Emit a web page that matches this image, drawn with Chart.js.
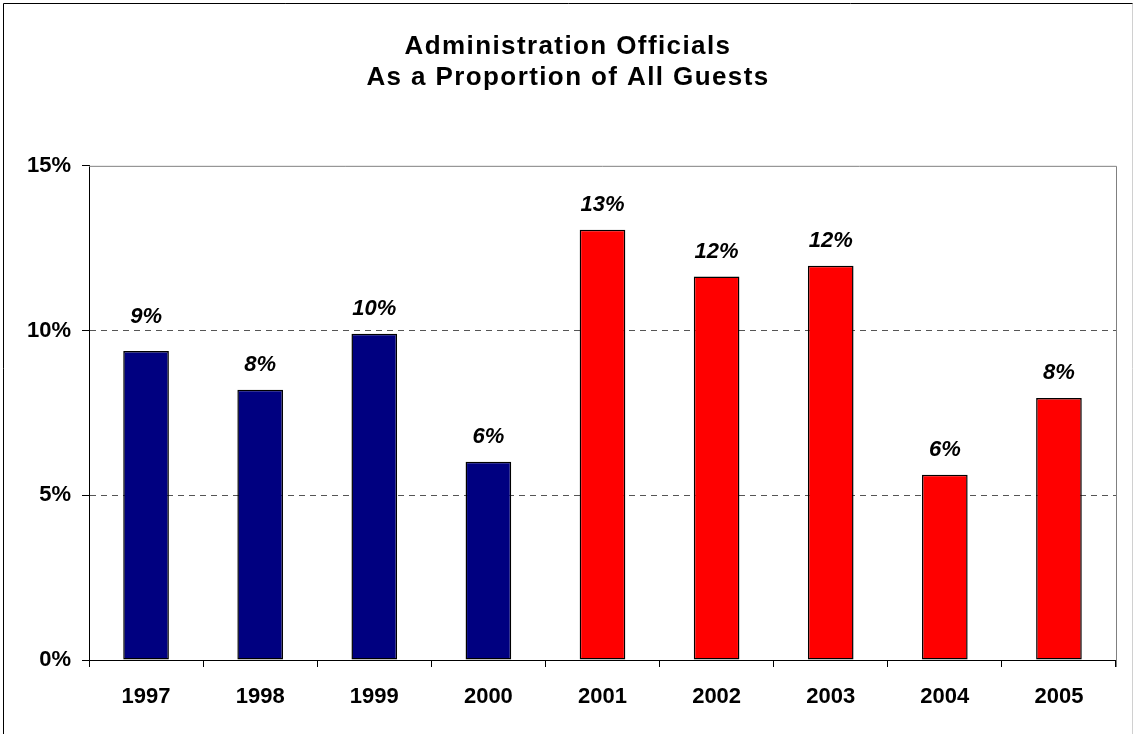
<!DOCTYPE html>
<html>
<head>
<meta charset="utf-8">
<script src="https://cdn.jsdelivr.net/npm/chart.js@4"></script>
<style>
  body { margin: 0; background: #fff; }
  canvas { display: block; }
</style>
</head>
<body>
<canvas id="myChart" width="1134" height="734"></canvas>
<script>
// данные
const years = ['1997', '1998', '1999', '2000', '2001', '2002', '2003', '2004', '2005'];
const shares = [9.38, 8.20, 9.90, 6.02, 13.06, 11.64, 11.97, 5.62, 7.95];
const administrations = ['Clinton', 'Clinton', 'Clinton', 'Clinton', 'Bush', 'Bush', 'Bush', 'Bush', 'Bush'];
const yTicks = [0, 5, 10, 15];
const dashedLines = [5, 10];

const fontFamily = "'Liberation Sans', Arial, sans-serif";

// цвет столбца по администрации
const barColors = administrations.map(a => a === 'Clinton' ? '#000080' : '#ff0000');

// подписи над столбцами
const valueLabels = {
    id: 'valueLabels',
    afterDatasetsDraw(chart) {
        const ctx = chart.ctx;
        const meta = chart.getDatasetMeta(0);
        const yScale = chart.scales.y;
        ctx.save();
        ctx.font = 'italic bold 22px ' + fontFamily;
        ctx.fillStyle = '#000';
        ctx.textAlign = 'center';
        ctx.textBaseline = 'middle';
        meta.data.forEach((bar, i) => {
            let y = bar.y - 25;
            // не пересекать пунктирную линию
            dashedLines.forEach(v => {
                const ly = yScale.getPixelForValue(v);
                if (Math.abs(ly - y) < 10) y = ly - 14;
            });
            ctx.fillText(Math.round(shares[i]) + '%', bar.x, y);
        });
        ctx.restore();
    }
};

// разрядка и сдвиг заголовка
const titleSpacing = {
    id: 'titleSpacing',
    afterInit(chart) {
        const tb = chart.titleBlock;
        if (!tb) return;
        const orig = tb.draw.bind(tb);
        tb.draw = function (area) {
            const ctx = chart.ctx;
            ctx.save();
            ctx.letterSpacing = '1.4px';
            ctx.translate(10, 0);
            orig(area);
            ctx.restore();
        };
    }
};

// рамка вокруг графика и области построения
const frame = {
    id: 'frame',
    afterDraw(chart) {
        const ctx = chart.ctx;
        const a = chart.chartArea;
        ctx.save();
        ctx.lineWidth = 1;
        ctx.strokeStyle = '#808080';
        ctx.beginPath();
        ctx.moveTo(a.left, a.top + 0.5);
        ctx.lineTo(a.right + 0.5, a.top + 0.5);
        ctx.lineTo(a.right + 0.5, a.bottom + 7);
        ctx.stroke();

        ctx.strokeStyle = '#000';
        ctx.beginPath();
        ctx.moveTo(3.5, 734);
        ctx.lineTo(3.5, 3.5);
        ctx.lineTo(1133, 3.5);
        ctx.stroke();
        ctx.strokeStyle = '#d0d0d0';
        ctx.beginPath();
        ctx.moveTo(1132.5, 3.5);
        ctx.lineTo(1132.5, 734);
        ctx.stroke();
        ctx.restore();
    }
};

const ctxChart = document.getElementById('myChart').getContext('2d');

const myChart = new Chart(ctxChart, {
    type: 'bar',
    data: {
        labels: years,
        datasets: [{
            data: shares,
            backgroundColor: barColors,
            borderColor: '#000',
            borderWidth: 1.5,
            borderSkipped: false,
            categoryPercentage: 1,
            barPercentage: 0.4
        }]
    },
    options: {
        responsive: false,
        animation: false,
        layout: {
            padding: { left: 0, right: 18, top: 0, bottom: 0 }
        },
        plugins: {
            legend: { display: false },
            tooltip: { enabled: false },
            title: {
                display: true,
                text: ['Administration Officials', 'As a Proportion of All Guests'],
                color: '#000',
                font: { family: fontFamily, size: 26, weight: 'bold', lineHeight: 1.17 },
                padding: { top: 32, bottom: 73 }
            }
        },
        scales: {
            x: {
                grid: {
                    offset: true,
                    drawOnChartArea: false,
                    drawTicks: true,
                    tickLength: 7,
                    tickColor: '#000'
                },
                border: { color: '#000', width: 1 },
                ticks: {
                    color: '#000',
                    padding: 17,
                    font: { family: fontFamily, size: 22, weight: 'bold' }
                },
                afterFit(scale) { scale.height = 74; }
            },
            y: {
                min: 0,
                max: 15,
                afterBuildTicks(scale) {
                    scale.ticks = yTicks.map(v => ({ value: v }));
                },
                grid: {
                    color: c => (c.tick && dashedLines.includes(c.tick.value)) ? '#555' : 'rgba(0,0,0,0)',
                    tickColor: '#000',
                    tickLength: 7,
                    tickBorderDash: [],
                    lineWidth: 1
                },
                border: { color: '#000', width: 1, dash: [6, 5] },
                ticks: {
                    color: '#000',
                    padding: 11,
                    font: { family: fontFamily, size: 22, weight: 'bold' },
                    callback: v => v + '%'
                },
                afterFit(scale) { scale.width = 89; }
            }
        }
    },
    plugins: [valueLabels, titleSpacing, frame]
});
</script>
</body>
</html>
